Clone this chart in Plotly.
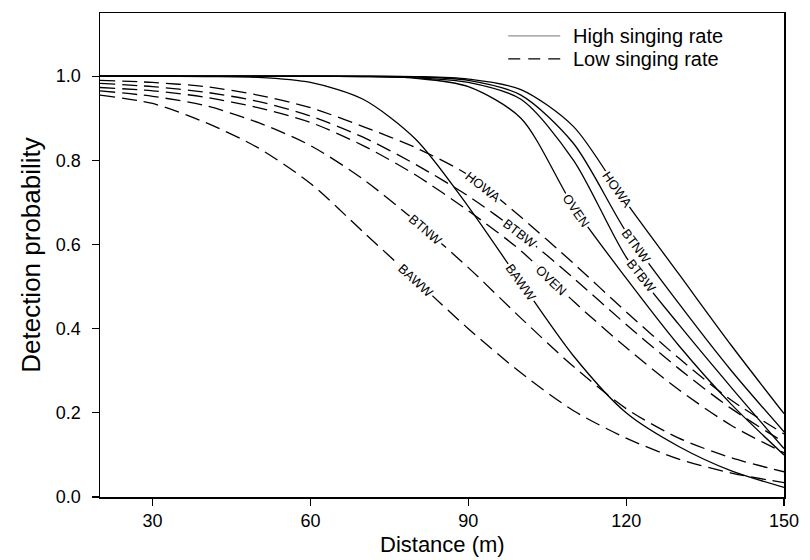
import numpy as np
import plotly.graph_objects as go

# ---- data ----
distance = [20, 30, 40, 50, 60, 70, 80, 90, 100, 110, 120, 130, 140, 150]

species = ["HOWA", "BTNW", "BTBW", "OVEN", "BAWW"]

high_HOWA = [1.0, 1.0, 1.0, 1.0, 1.0, 1.0, 0.999, 0.993, 0.968, 0.88, 0.70, 0.53, 0.36, 0.198]
high_BTNW = [1.0, 1.0, 1.0, 1.0, 1.0, 1.0, 0.998, 0.99, 0.955, 0.84, 0.63, 0.46, 0.30, 0.155]
high_BTBW = [1.0, 1.0, 1.0, 1.0, 1.0, 0.999, 0.996, 0.985, 0.945, 0.80, 0.57, 0.41, 0.26, 0.115]
high_OVEN = [1.0, 1.0, 1.0, 1.0, 1.0, 0.999, 0.995, 0.975, 0.90, 0.69, 0.52, 0.36, 0.22, 0.10]
high_BAWW = [1.0, 1.0, 0.999, 0.997, 0.985, 0.945, 0.85, 0.69, 0.51, 0.335, 0.20, 0.12, 0.062, 0.023]

low_HOWA = [0.99, 0.985, 0.975, 0.955, 0.925, 0.88, 0.83, 0.765, 0.665, 0.555, 0.44, 0.33, 0.23, 0.15]
low_BTBW = [0.983, 0.975, 0.962, 0.94, 0.905, 0.855, 0.79, 0.715, 0.625, 0.52, 0.41, 0.305, 0.21, 0.13]
low_OVEN = [0.973, 0.965, 0.95, 0.925, 0.89, 0.835, 0.765, 0.68, 0.585, 0.465, 0.355, 0.255, 0.17, 0.105]
low_BTNW = [0.965, 0.952, 0.93, 0.89, 0.835, 0.755, 0.655, 0.545, 0.425, 0.31, 0.21, 0.14, 0.093, 0.06]
low_BAWW = [0.955, 0.935, 0.89, 0.83, 0.745, 0.63, 0.515, 0.40, 0.295, 0.205, 0.14, 0.09, 0.057, 0.034]

high_series = {"HOWA": high_HOWA, "BTNW": high_BTNW, "BTBW": high_BTBW,
               "OVEN": high_OVEN, "BAWW": high_BAWW}
low_series = {"HOWA": low_HOWA, "BTNW": low_BTNW, "BTBW": low_BTBW,
              "OVEN": low_OVEN, "BAWW": low_BAWW}

# distance along each curve where its species label sits
high_label_at = {"HOWA": 118.3, "BTNW": 122.0, "BTBW": 122.8, "OVEN": 110.5, "BAWW": 100.0}
low_label_at = {"HOWA": 92.7, "BTBW": 99.8, "OVEN": 105.8, "BTNW": 81.8, "BAWW": 80.0}

legend_names = ["High singing rate", "Low singing rate"]
x_title = "Distance (m)"
y_title = "Detection probability"

x_ticks = [30, 60, 90, 120, 150]
y_ticks = [0.0, 0.2, 0.4, 0.6, 0.8, 1.0]

# ---- layout geometry ----
W, H = 810, 560
M = dict(l=100, r=13, t=11, b=63)
PW, PH = W - M["l"] - M["r"], H - M["t"] - M["b"]
X_RANGE = [20, 150]
Y_RANGE = [0, 1.15]
px_per_x = PW / (X_RANGE[1] - X_RANGE[0])
px_per_y = PH / (Y_RANGE[1] - Y_RANGE[0])

FONT = "Liberation Sans, Arial, Helvetica, sans-serif"
SOLID = "solid"
DASH = "15px,7px"

fig = go.Figure()

def add_group(series, dash):
    for sp in species:
        fig.add_trace(go.Scatter(
            x=distance, y=series[sp], mode="lines",
            line=dict(color="black", width=1.3, dash=dash, shape="spline", smoothing=0.8),
            showlegend=False, hoverinfo="skip",
        ))

add_group(high_series, SOLID)
add_group(low_series, DASH)

def add_labels(series, label_at):
    for sp, xl in label_at.items():
        yv = series[sp]
        y0 = float(np.interp(xl, distance, yv))
        ya = float(np.interp(xl - 2, distance, yv))
        yb = float(np.interp(xl + 2, distance, yv))
        slope = (yb - ya) / 4.0
        ang = float(np.degrees(np.arctan(-slope * px_per_y / px_per_x)))
        fig.add_annotation(
            x=xl, y=y0, text=sp, showarrow=False, textangle=ang,
            font=dict(family=FONT, size=13, color="black"),
            bgcolor="white", borderpad=1,
        )

add_labels(high_series, high_label_at)
add_labels(low_series, low_label_at)

# ---- legend (drawn in paper coordinates) ----
def px_to_paper_x(px):
    return (px - M["l"]) / PW

def px_to_paper_y(py):
    return (H - M["b"] - py) / PH

leg_rows_py = [34, 57]
leg_styles = [dict(color="#777777", width=1.0, dash="solid"),
              dict(color="black", width=1.2, dash="12px,8px")]
for name, py, st in zip(legend_names, leg_rows_py, leg_styles):
    yy = px_to_paper_y(py)
    fig.add_shape(type="line", xref="paper", yref="paper",
                  x0=px_to_paper_x(516), x1=px_to_paper_x(569), y0=yy, y1=yy,
                  line=st)
    fig.add_annotation(xref="paper", yref="paper", x=px_to_paper_x(580), y=yy,
                       xanchor="left", yanchor="middle", text=name, showarrow=False,
                       font=dict(family=FONT, size=20, color="black"))

# x-axis title placed as a text just above the bottom edge
fig.add_annotation(xref="paper", yref="paper", x=0.5, y=px_to_paper_y(545),
                   xanchor="center", yanchor="middle", text=x_title, showarrow=False,
                   font=dict(family=FONT, size=22, color="black"), borderpad=0)

axis_common = dict(
    showline=True, linecolor="black", linewidth=1.5, mirror=True,
    ticks="outside", ticklen=7, tickwidth=1.2, tickcolor="black",
    showgrid=False, zeroline=False, ticklabeloverflow="allow",
    tickfont=dict(family=FONT, size=18, color="black"),
)

fig.update_layout(
    width=W, height=H,
    margin=M,
    paper_bgcolor="white", plot_bgcolor="white",
    font=dict(family=FONT, color="black"),
    xaxis=dict(range=X_RANGE, tickvals=x_ticks, ticklabelstandoff=0, **axis_common),
    yaxis=dict(range=Y_RANGE, tickvals=y_ticks, tickformat=".1f", ticklabelstandoff=7,
               title=dict(text=y_title, font=dict(family=FONT, size=26), standoff=8),
               **axis_common),
    showlegend=False,
)

fig.write_html(
    "out.html",
    config={"displayModeBar": False, "staticPlot": True},
    post_script="document.body.style.margin='0';document.body.style.overflow='hidden';",
)
